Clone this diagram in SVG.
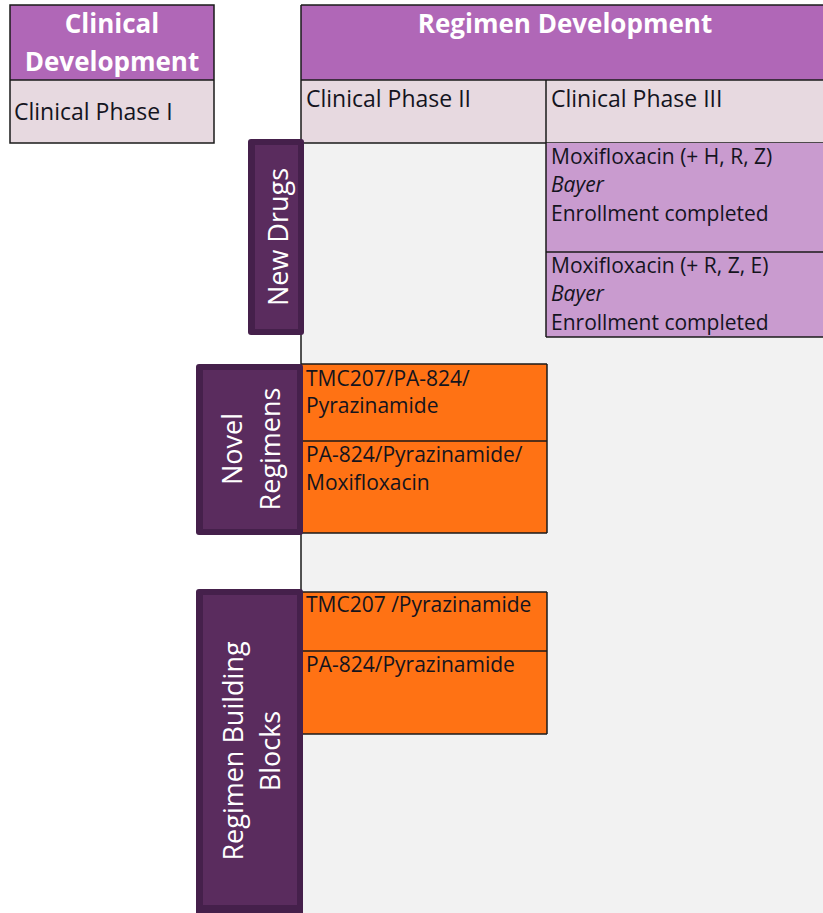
<svg xmlns="http://www.w3.org/2000/svg" width="823" height="913" viewBox="0 0 823 913">
<style>
.t{font-family:"Open Sans","Liberation Sans",sans-serif;font-size:21px;fill:#14141e}
.p{font-family:"Open Sans","Liberation Sans",sans-serif;font-size:23px;fill:#14141e}
.h{font-family:"Open Sans","Liberation Sans",sans-serif;font-size:26px;font-weight:bold;fill:#ffffff;text-anchor:middle}
.v{font-family:"Open Sans","Liberation Sans",sans-serif;font-size:27px;fill:#ffffff;text-anchor:middle}
.ln{stroke:#1a1a1a;stroke-width:1.5;fill:none}
.tabo{fill:#45204b}
.tabi{fill:#5a2c5e}
.hdr{fill:#b067b7}
.pk{fill:#e7d9e0}
.lav{fill:#c99bcf}
.or{fill:#ff7214}
</style>
<rect width="823" height="913" fill="#ffffff"/>
<g id="grid-bg">
<rect x="301" y="143" width="522" height="770" fill="#f2f2f2"/>
</g>
<g id="clinical-development">
<rect class="hdr" x="10" y="5" width="204" height="75"/>
<rect class="pk" x="10" y="80" width="204" height="63"/>
<rect class="ln" x="10" y="5" width="204" height="138"/>
<line class="ln" x1="10" y1="80" x2="214" y2="80"/>
<text class="h" x="112" y="33">Clinical</text>
<text class="h" x="112" y="71">Development</text>
<text class="p" x="14" y="120">Clinical Phase I</text>
</g>
<g id="regimen-development">
<rect class="hdr" x="301" y="5" width="522" height="75"/>
<rect class="pk" x="301" y="80" width="522" height="63"/>
<line class="ln" x1="301" y1="5" x2="823" y2="5"/>
<line class="ln" x1="301" y1="80" x2="823" y2="80"/>
<line class="ln" x1="301" y1="143" x2="823" y2="143"/>
<line class="ln" x1="546" y1="80" x2="546" y2="143"/>
<text class="h" x="565" y="33">Regimen Development</text>
<text class="p" x="306" y="107">Clinical Phase II</text>
<text class="p" x="551" y="107">Clinical Phase III</text>
</g>
<g id="moxi-hrz">
<rect class="lav" x="546" y="143" width="277" height="109"/>
<text class="t" x="551" y="164">Moxifloxacin (+ H, R, Z)</text>
<text class="t" x="551" y="192" font-style="italic">Bayer</text>
<text class="t" x="551" y="221">Enrollment completed</text>
</g>
<g id="moxi-rze">
<rect class="lav" x="546" y="252" width="277" height="85"/>
<text class="t" x="551" y="273">Moxifloxacin (+ R, Z, E)</text>
<text class="t" x="551" y="301" font-style="italic">Bayer</text>
<text class="t" x="551" y="330">Enrollment completed</text>
</g>
<g id="nr-1">
<rect class="or" x="301" y="364" width="246" height="77"/>
<text class="t" x="306" y="386">TMC207/PA-824/</text>
<text class="t" x="306" y="413">Pyrazinamide</text>
</g>
<g id="nr-2">
<rect class="or" x="301" y="441" width="246" height="92"/>
<text class="t" x="306" y="462">PA-824/Pyrazinamide/</text>
<text class="t" x="306" y="490">Moxifloxacin</text>
</g>
<g id="bb-1">
<rect class="or" x="301" y="592" width="246" height="59"/>
<text class="t" x="306" y="612">TMC207 /Pyrazinamide</text>
</g>
<g id="bb-2">
<rect class="or" x="301" y="651" width="246" height="83"/>
<text class="t" x="306" y="672">PA-824/Pyrazinamide</text>
</g>
<g id="connectors">
<line class="ln" x1="301" y1="5" x2="301" y2="913"/>
<line class="ln" x1="546" y1="143" x2="546" y2="337"/>
<line class="ln" x1="546" y1="252" x2="823" y2="252"/>
<line class="ln" x1="546" y1="337" x2="823" y2="337"/>
<line class="ln" x1="301" y1="364" x2="547" y2="364"/>
<line class="ln" x1="301" y1="441" x2="547" y2="441"/>
<line class="ln" x1="301" y1="533" x2="547" y2="533"/>
<line class="ln" x1="547" y1="364" x2="547" y2="533"/>
<line class="ln" x1="301" y1="592" x2="547" y2="592"/>
<line class="ln" x1="301" y1="651" x2="547" y2="651"/>
<line class="ln" x1="301" y1="734" x2="547" y2="734"/>
<line class="ln" x1="547" y1="592" x2="547" y2="734"/>
</g>
<g id="tab-new-drugs">
<rect class="tabo" x="248" y="139" width="56" height="196" rx="3"/>
<rect class="tabi" x="255" y="145" width="43" height="184"/>
<text class="v" transform="translate(288,237) rotate(-90)">New Drugs</text>
</g>
<g id="tab-novel-regimens">
<rect class="tabo" x="196" y="364" width="107" height="171" rx="3"/>
<rect class="tabi" x="203" y="370" width="94" height="159"/>
<text class="v" transform="translate(242,449) rotate(-90)">Novel</text>
<text class="v" transform="translate(280,449) rotate(-90)">Regimens</text>
</g>
<g id="tab-building-blocks">
<rect class="tabo" x="196" y="589" width="107" height="330" rx="3"/>
<rect class="tabi" x="203" y="595" width="94" height="310"/>
<text class="v" transform="translate(243,751) rotate(-90)">Regimen Building</text>
<text class="v" transform="translate(280,751) rotate(-90)">Blocks</text>
</g>
</svg>
